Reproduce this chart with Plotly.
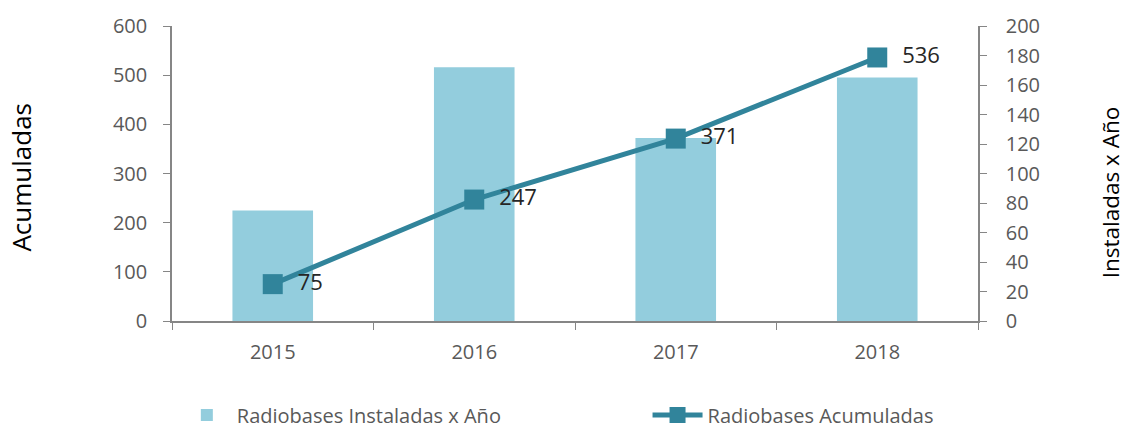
import plotly.graph_objects as go

years = ["2015", "2016", "2017", "2018"]
instaladas = [75, 172, 124, 165]
acumuladas = [75, 247, 371, 536]

FONT = "Open Sans"
TICK = "#595959"
AX = "#868686"

fig = go.Figure()
fig.add_trace(go.Bar(
    x=years, y=instaladas, name="Radiobases Instaladas x Año",
    marker=dict(color="#93CDDD", line=dict(width=0)), yaxis="y", legend="legend",
))
fig.add_trace(go.Scatter(
    x=years, y=acumuladas, name="Radiobases Acumuladas", yaxis="y2", legend="legend2",
    mode="lines+markers+text", text=["  " + str(v) for v in acumuladas],
    textposition="middle right", textfont=dict(size=22, color="#262626", family=FONT),
    line=dict(color="#31849B", width=5),
    marker=dict(symbol="square", size=20, color="#31849B"),
))

leg_common = dict(orientation="h", xanchor="left", yref="container", y=0.035, yanchor="middle",
                  font=dict(size=20, color=TICK), itemwidth=50, bgcolor="rgba(0,0,0,0)")

fig.update_layout(
    width=1126, height=430,
    margin=dict(l=172, r=148, t=21, b=109),
    paper_bgcolor="white", plot_bgcolor="white",
    font=dict(family=FONT, size=20, color=TICK),
    bargap=0.6,
    showlegend=True,
    legend=dict(x=0.006, **leg_common),
    legend2=dict(x=0.59, **leg_common),
    xaxis=dict(showline=True, linecolor=AX, linewidth=1.5, ticks="outside",
               tickcolor=AX, ticklen=7, tickson="boundaries", showgrid=False,
               ticklabelstandoff=12, tickfont=dict(size=20, color=TICK)),
    yaxis=dict(side="right", range=[0, 200], dtick=20, showline=True, linecolor=AX,
               linewidth=1.5, ticks="outside", tickcolor=AX, ticklen=7, showgrid=False,
               ticklabelstandoff=15,
               zeroline=False, tickfont=dict(size=20, color=TICK)),
    yaxis2=dict(side="left", overlaying="y", range=[0, 600], dtick=100, showline=True,
                linecolor=AX, linewidth=1.5, ticks="outside", tickcolor=AX, ticklen=7,
                ticklabelstandoff=12,
                showgrid=False, zeroline=False, tickfont=dict(size=20, color=TICK)),
    annotations=[
        dict(text="Acumuladas", xref="paper", yref="paper", x=-0.187, y=0.487,
             xanchor="center", yanchor="middle", textangle=-90, showarrow=False,
             font=dict(size=26, color="#000000", family=FONT)),
        dict(text="Instaladas x Año", xref="paper", yref="paper", x=1.164, y=0.437,
             xanchor="center", yanchor="middle", textangle=-90, showarrow=False,
             font=dict(size=22.5, color="#000000", family=FONT)),
    ],
)

fig.write_html("out.html")
